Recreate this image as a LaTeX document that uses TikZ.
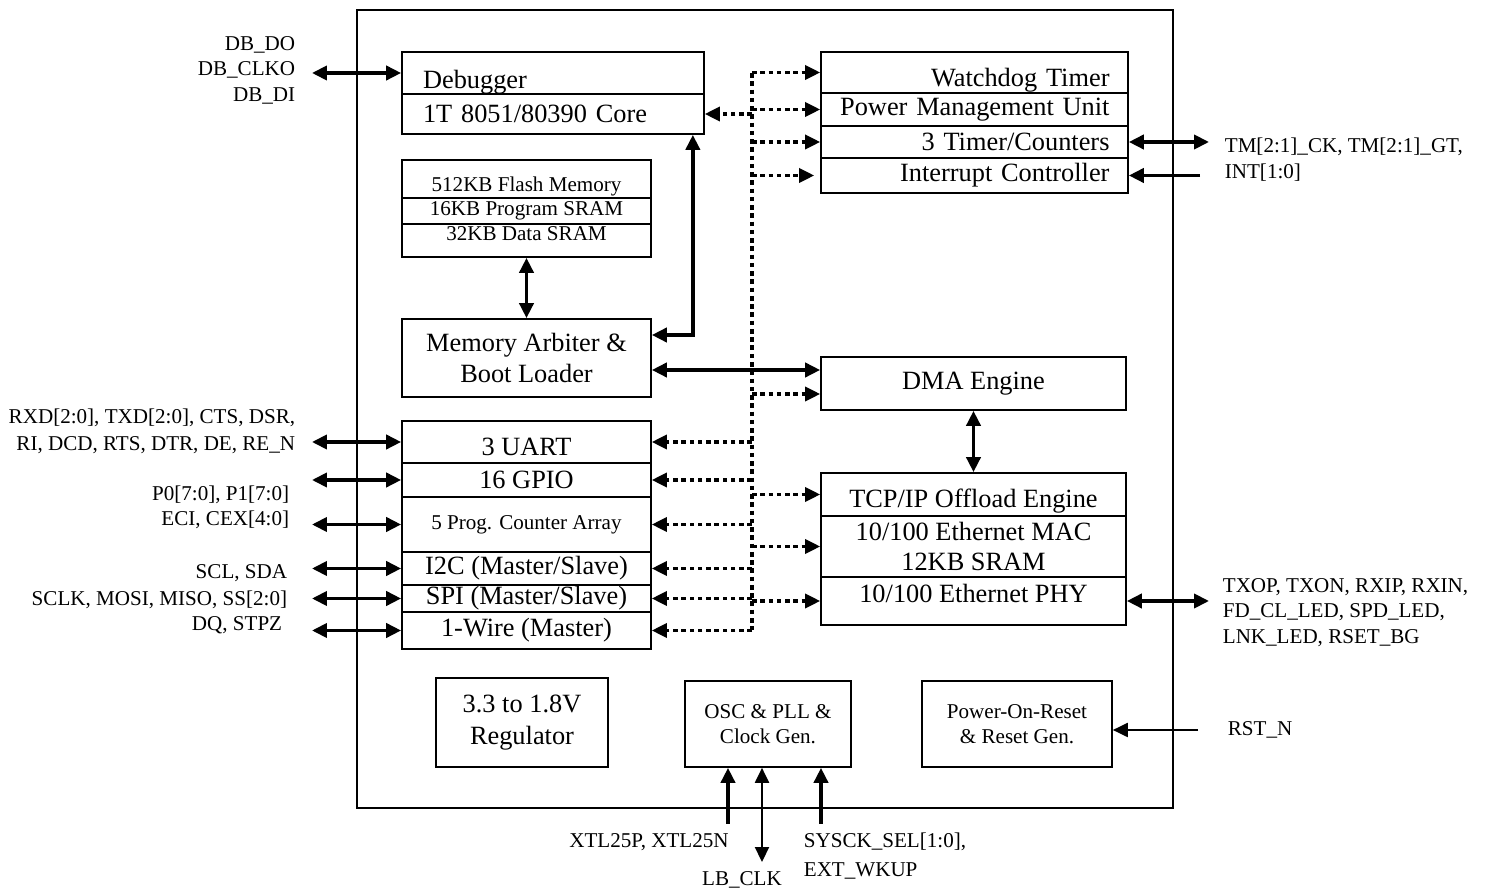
\documentclass[tikz,border=0pt]{standalone}
\usepackage{fontspec}
\setmainfont{Liberation Serif}
\usepackage{tikz}
\usetikzlibrary{arrows.meta}
\newcommand\bigtxt{\fontsize{15}{17.5}\selectfont}
\newcommand\smtxt{\fontsize{12}{14.5}\selectfont}
\newcommand\dropby[2]{\raisebox{-#1}[\height][\depth]{#2}}

\begin{document}
\begin{tikzpicture}[x=0.02cm,y=-0.02cm,>={Triangle[length=8.5pt,width=8pt]},
  box/.style={draw,line width=1pt,inner sep=0pt,align=center,font=\bigtxt},
  lrow/.style={box,text width=5.2cm,inner xsep=0.42cm,align=left},
  rrow/.style={box,text width=5.4cm,inner xsep=0.37cm,align=right},
  lbl/.style={inner sep=2pt,font=\smtxt},
  sig/.style={line width=2pt},
  thinsig/.style={line width=1pt},
  ctl/.style={line width=1.8pt,dash pattern=on 2.6pt off 2.1pt}]
\useasboundingbox (0,0) rectangle (1489,891);
\node[box,minimum width=16.32cm,minimum height=15.96cm] (chip) at (765,409) {};

\node[lrow,minimum height=0.84cm] (dbg) at (553,73) {\dropby{0.18cm}{Debugger}};
\node[lrow,minimum height=0.8cm] (core) at (553,114) {1T 8051/80390 Core};

\node[box,font=\smtxt,minimum width=4.98cm,minimum height=0.76cm] (flash) at (526.5,179) {\dropby{0.14cm}{512KB Flash Memory}};
\node[box,font=\smtxt,minimum width=4.98cm,minimum height=0.52cm] (prog) at (526.5,211) {16KB Program SRAM};
\node[box,font=\smtxt,minimum width=4.98cm,minimum height=0.66cm] (data) at (526.5,240.5) {\dropby{-0.14cm}{32KB Data SRAM}};
\node[box,minimum width=4.98cm,minimum height=1.56cm] (arb) at (526.5,358) {Memory Arbiter \&\\Boot Loader};

\node[box,minimum width=4.98cm,minimum height=0.84cm] (uart) at (526.5,442) {\dropby{0.1cm}{3 UART}};
\node[box,minimum width=4.98cm,minimum height=0.68cm] (gpio) at (526.5,480) {16 GPIO};
\node[box,font=\smtxt,minimum width=4.98cm,minimum height=1.1cm] (pca) at (526.5,524.5) {5 Prog. Counter Array};
\node[box,minimum width=4.98cm,minimum height=0.66cm] (i2c) at (526.5,568.5) {I2C (Master/Slave)};
\node[box,minimum width=4.98cm,minimum height=0.54cm] (spi) at (526.5,598.5) {SPI (Master/Slave)};
\node[box,minimum width=4.98cm,minimum height=0.74cm] (wire) at (526.5,630.5) {1-Wire (Master)};

\node[rrow,minimum height=0.82cm] (wdt) at (974.5,72.5) {\dropby{0.16cm}{Watchdog Timer}};
\node[rrow,minimum height=0.66cm] (pmu) at (974.5,109.5) {Power Management Unit};
\node[rrow,minimum height=0.64cm] (tmr) at (974.5,142) {3 Timer/Counters};
\node[rrow,minimum height=0.7cm] (intc) at (974.5,175.5) {Interrupt Controller};

\node[box,minimum width=6.1cm,minimum height=1.06cm] (dma) at (973.5,383.5) {DMA Engine};
\node[box,minimum width=6.1cm,minimum height=0.86cm] (toe) at (973.5,494.5) {\dropby{0.14cm}{TCP/IP Offload Engine}};
\node[box,minimum width=6.1cm,minimum height=1.22cm] (mac) at (973.5,546.5) {10/100 Ethernet MAC\\12KB SRAM};
\node[box,minimum width=6.1cm,minimum height=0.96cm] (phy) at (973.5,601) {\dropby{-0.16cm}{10/100 Ethernet PHY}};

\node[box,minimum width=3.44cm,minimum height=1.78cm] (reg) at (522,722.5) {3.3 to 1.8V\\[1pt]Regulator};
\node[box,font=\smtxt,minimum width=3.32cm,minimum height=1.72cm] (osc) at (768,724) {OSC \& PLL \&\\Clock Gen.};
\node[box,font=\smtxt,minimum width=3.8cm,minimum height=1.72cm] (por) at (1017,724) {Power-On-Reset\\\& Reset Gen.};

\node[lbl,anchor=east,align=right] (dblbl) at (299,70) {DB\_DO\\DB\_CLKO\\DB\_DI};
\node[lbl,anchor=east,align=right] (uartlbl) at (299,431.5) {RXD[2:0], TXD[2:0], CTS, DSR,\\[1pt]RI, DCD, RTS, DTR, DE, RE\_N};
\node[lbl,anchor=east] (gpiolbl) at (293,495) {P0[7:0], P1[7:0]};
\node[lbl,anchor=east] (pcalbl) at (293,520) {ECI, CEX[4:0]};
\node[lbl,anchor=east] (i2clbl) at (291,573) {SCL, SDA};
\node[lbl,anchor=east] (spilbl) at (291,600) {SCLK, MOSI, MISO, SS[2:0]};
\node[lbl,anchor=east] (wirelbl) at (286,625) {DQ, STPZ};
\node[lbl,anchor=west,align=left] (tmrlbl) at (1221,159.5) {TM[2:1]\_CK, TM[2:1]\_GT,\\INT[1:0]};
\node[lbl,anchor=west,align=left] (phylbl) at (1219,612.5) {TXOP, TXON, RXIP, RXIN,\\FD\_CL\_LED, SPD\_LED,\\LNK\_LED, RSET\_BG};
\node[lbl,anchor=west] (rstlbl) at (1224,730) {RST\_N};
\node[lbl] (xtllbl) at (649,842) {XTL25P, XTL25N};
\node[lbl] (lbclklbl) at (742,880) {LB\_CLK};
\node[lbl,anchor=west,align=left] (syslbl) at (800,856) {SYSCK\_SEL[1:0],\\[2pt]EXT\_WKUP};

\coordinate (pinL) at (312,0);
\coordinate (pinR) at (1209,0);
\coordinate (pinI) at (1200,0);
\coordinate (pinRst) at (1198,0);
\coordinate (pinX) at (728,824);
\coordinate (pinLB) at (762,862);
\coordinate (pinS) at (821,824);
\coordinate (bus) at (752,73);
\coordinate (busend) at (752,630);
\coordinate (arbcore) at ([yshift=0.46cm]arb.east);
\coordinate (arbdma) at ([yshift=-0.24cm]arb.east);
\coordinate (dmain) at ([yshift=-0.21cm]dma.west);
\coordinate (rstin) at ([yshift=-0.12cm]por.east);
\coordinate (corein) at ([xshift=-0.24cm]core.south east);

\draw[sig,<->] (dbg.west -| pinL) -- (dbg.west);
\draw[sig,<->] (uart.west -| pinL) -- (uart.west);
\draw[sig,<->] (gpio.west -| pinL) -- (gpio.west);
\draw[sig,<->] (pca.west -| pinL) -- (pca.west);
\draw[sig,<->] (i2c.west -| pinL) -- (i2c.west);
\draw[sig,<->] (spi.west -| pinL) -- (spi.west);
\draw[sig,<->] (wire.west -| pinL) -- (wire.west);
\draw[sig,<->] (data.south) -- (arb.north);
\draw[sig,<->] (arbcore) -| (corein);
\draw[sig,<->] (arbdma) -- (arbdma -| dma.west);
\draw[sig,<->] (dma.south) -- (toe.north);
\draw[sig,<->] (tmr.east) -- (tmr.east -| pinR);
\draw[sig,->] (intc.east -| pinI) -- (intc.east);
\draw[sig,<->] (phy.east) -- (phy.east -| pinR);
\draw[thinsig,->] (rstin -| pinRst) -- (rstin);
\draw[sig,->] (pinX) -- (pinX |- osc.south);
\draw[thinsig,<->] (pinLB) -- (pinLB |- osc.south);
\draw[sig,->] (pinS) -- (pinS |- osc.south);

\draw[ctl] (bus) -- (busend);
\draw[ctl,->] (bus |- wdt.west) -- (wdt.west);
\draw[ctl,->] (bus |- pmu.west) -- (pmu.west);
\draw[ctl,->] (bus |- tmr.west) -- (tmr.west);
\draw[ctl,->,shorten >=0.12cm] (bus |- intc.west) -- (intc.west);
\draw[ctl,->] (bus |- core.east) -- (core.east);
\draw[ctl,->] (bus |- dmain) -- (dmain);
\draw[ctl,->] (bus |- toe.west) -- (toe.west);
\draw[ctl,->] (bus |- mac.west) -- (mac.west);
\draw[ctl,->] (bus |- phy.west) -- (phy.west);
\draw[ctl,->] (bus |- uart.east) -- (uart.east);
\draw[ctl,->] (bus |- gpio.east) -- (gpio.east);
\draw[ctl,->] (bus |- pca.east) -- (pca.east);
\draw[ctl,->] (bus |- i2c.east) -- (i2c.east);
\draw[ctl,->] (bus |- spi.east) -- (spi.east);
\draw[ctl,->] (bus |- wire.east) -- (wire.east);
\end{tikzpicture}
\end{document}
